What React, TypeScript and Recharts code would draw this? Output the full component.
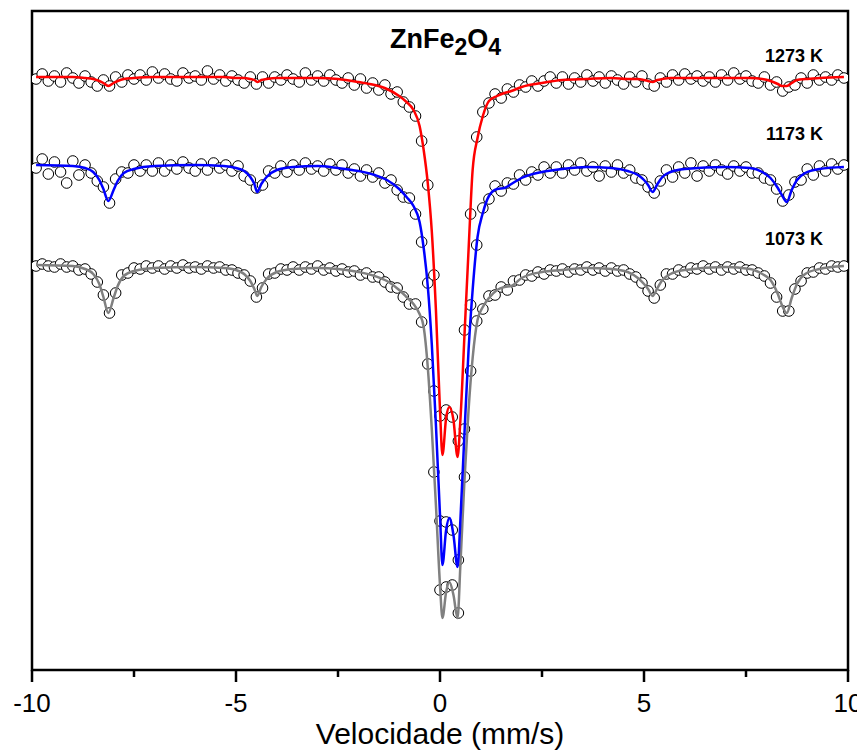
import React from 'react';
import {
  ComposedChart,
  Scatter,
  Line,
  XAxis,
  YAxis,
  ReferenceArea,
} from 'recharts';

// velocity channels (mm/s) of the measured spectra
const VEL = [
  -9.9, -9.75, -9.6, -9.45, -9.3, -9.15, -9.0, -8.85, -8.7, -8.55, -8.4, -8.25, -8.1, -7.95, -7.8, -7.65,
  -7.5, -7.35, -7.2, -7.05, -6.9, -6.75, -6.6, -6.45, -6.3, -6.15, -6.0, -5.85, -5.7, -5.55, -5.4, -5.25,
  -5.1, -4.95, -4.8, -4.65, -4.5, -4.35, -4.2, -4.05, -3.9, -3.75, -3.6, -3.45, -3.3, -3.15, -3.0, -2.85,
  -2.7, -2.55, -2.4, -2.25, -2.1, -1.95, -1.8, -1.65, -1.5, -1.35, -1.2, -1.05, -0.9, -0.75, -0.6, -0.45,
  -0.3, -0.15, 0, 0.15, 0.3, 0.45, 0.6, 0.75, 0.9, 1.05, 1.2, 1.35, 1.5, 1.65, 1.8, 1.95,
  2.1, 2.25, 2.4, 2.55, 2.7, 2.85, 3.0, 3.15, 3.3, 3.45, 3.6, 3.75, 3.9, 4.05, 4.2, 4.35,
  4.5, 4.65, 4.8, 4.95, 5.1, 5.25, 5.4, 5.55, 5.7, 5.85, 6.0, 6.15, 6.3, 6.45, 6.6, 6.75,
  6.9, 7.05, 7.2, 7.35, 7.5, 7.65, 7.8, 7.95, 8.1, 8.25, 8.4, 8.55, 8.7, 8.85, 9.0, 9.15,
  9.3, 9.45, 9.6, 9.75, 9.9,
];

// relative transmission (arb. units, spectra offset)
const T_1273 = [
  591, 596, 589, 594, 588, 597, 592, 587, 594, 588, 584, 590, 584, 593, 588, 595,
  591, 595, 590, 598, 592, 596, 591, 589, 597, 592, 594, 590, 599, 591, 595, 589,
  594, 590, 587, 593, 586, 593, 587, 593, 590, 595, 591, 588, 597, 590, 594, 589,
  595, 590, 587, 592, 585, 591, 582, 587, 580, 585, 576, 578, 568, 563, 554, 529,
  485, 395, 254, 260, 253, 229, 340, 456, 533, 558, 567, 576, 572, 581, 578, 585,
  583, 589, 584, 589, 593, 587, 593, 586, 592, 588, 595, 589, 593, 587, 594, 590,
  586, 593, 588, 594, 586, 584, 592, 588, 595, 590, 596, 591, 594, 589, 593, 588,
  595, 590, 597, 591, 594, 589, 587, 593, 585, 588, 579, 583, 585, 592, 587, 595,
  590, 593, 590, 595, 592,
];

const T_1173 = [
  502, 511, 496, 508, 498, 487, 509, 495, 505, 497, 489, 483, 467, 491, 498, 497,
  505, 499, 505, 499, 507, 499, 505, 501, 508, 502, 499, 506, 500, 507, 502, 505,
  499, 504, 494, 490, 482, 485, 499, 497, 504, 498, 505, 500, 507, 501, 504, 499,
  506, 500, 505, 497, 501, 494, 500, 493, 497, 487, 490, 480, 473, 472, 456, 428,
  387, 279, 149, 148, 140, 110, 241, 365, 425, 462, 471, 484, 479, 487, 486, 495,
  490, 498, 495, 503, 497, 503, 497, 505, 500, 507, 499, 503, 494, 504, 498, 505,
  497, 500, 492, 490, 483, 477, 489, 500, 493, 503, 497, 507, 494, 504, 499, 505,
  500, 496, 504, 499, 503, 497, 497, 492, 490, 481, 469, 475, 488, 490, 501, 495,
  504, 499, 506, 501, 505,
];

const T_1073 = [
  404, 406, 404, 403, 406, 403, 404, 400, 401, 396, 388, 375, 357, 377, 395, 397,
  402, 401, 404, 402, 404, 401, 404, 402, 405, 402, 403, 401, 404, 402, 403, 400,
  400, 397, 395, 389, 373, 382, 396, 397, 401, 400, 403, 400, 403, 401, 404, 400,
  402, 399, 401, 398, 399, 395, 397, 393, 393, 388, 383, 382, 373, 366, 366, 348,
  306, 198, 80, 83, 85, 57, 193, 299, 349, 361, 374, 375, 383, 380, 389, 390,
  395, 394, 398, 396, 400, 399, 401, 398, 401, 400, 403, 400, 402, 399, 402, 399,
  400, 396, 393, 387, 379, 372, 385, 396, 396, 400, 398, 402, 401, 404, 401, 403,
  400, 403, 401, 403, 400, 400, 397, 394, 387, 373, 359, 359, 381, 389, 397, 398,
  402, 401, 404, 403, 404,
];

// fitted curves
const FIT_VEL = [
  -9.9, -9.0, -8.7, -8.5, -8.35, -8.25, -8.13, -8.0, -7.9, -7.75, -7.5, -7.0, -6.0, -5.3, -5.0, -4.8,
  -4.65, -4.55, -4.48, -4.38, -4.25, -4.0, -3.6, -3.0, -2.5, -2.0, -1.6, -1.3, -1.0, -0.82, -0.65, -0.5,
  -0.4, -0.3, -0.2, -0.1, 0.0, 0.06, 0.15, 0.23, 0.33, 0.43, 0.5, 0.6, 0.7, 0.8, 0.92, 1.05,
  1.2, 1.4, 1.58, 1.75, 2.0, 2.5, 3.0, 3.6, 4.2, 4.6, 4.85, 5.0, 5.1, 5.21, 5.33, 5.45,
  5.65, 6.0, 7.0, 7.6, 7.9, 8.1, 8.28, 8.38, 8.5, 8.62, 8.75, 8.95, 9.3, 9.9,
];

const FIT_1273 = [
  593, 593, 592, 591, 589, 587, 584, 587, 589, 591, 592, 593, 593, 593, 592, 592,
  591, 590, 588, 590, 591, 592, 592, 592, 591, 588, 585, 581, 574, 568, 560, 544,
  520, 487, 438, 360, 260, 215, 252, 263, 250, 213, 250, 335, 420, 500, 532, 554,
  569, 574, 577, 579, 583, 587, 590, 591, 592, 591, 591, 590, 589, 588, 590, 591,
  592, 592, 592, 592, 591, 589, 586, 584, 584, 587, 590, 591, 592, 593,
];

const FIT_1173 = [
  505, 504, 502, 498, 490, 481, 469, 480, 489, 497, 501, 504, 505, 504, 502, 499,
  493, 486, 478, 486, 493, 500, 503, 504, 502, 499, 495, 490, 481, 473, 464, 448,
  422, 384, 325, 245, 155, 105, 140, 152, 135, 103, 150, 237, 320, 380, 433, 457,
  474, 481, 482, 486, 492, 498, 501, 503, 502, 499, 495, 490, 485, 478, 486, 493,
  498, 501, 503, 502, 498, 492, 482, 475, 468, 480, 490, 497, 501, 503,
];

const FIT_1073 = [
  405, 404, 401, 396, 386, 373, 357, 372, 384, 394, 399, 402, 403, 402, 400, 396,
  389, 381, 374, 383, 391, 398, 401, 402, 401, 398, 394, 389, 380, 373, 366, 356,
  343, 303, 240, 165, 85, 52, 78, 88, 75, 52, 105, 190, 260, 312, 350, 363,
  372, 380, 383, 384, 392, 398, 400, 402, 401, 398, 392, 386, 381, 374, 382, 390,
  396, 400, 403, 401, 396, 390, 376, 365, 357, 372, 386, 396, 401, 404,
];

const X_TICKS = [-10, -7.5, -5, -2.5, 0, 2.5, 5, 7.5, 10];
const TEMP_LABELS = ['1273 K', '1173 K', '1073 K'];

const W = 857;
const H = 742;
const AXIS_Y = 662;
const MARGIN = { top: 3, right: 17, bottom: 18, left: 24 };
const FONT = 'Liberation Sans, Arial, Helvetica, sans-serif';

const toPoints = (xs: number[], ys: number[]) => xs.map((x, i) => ({ x, y: ys[i] }));

const Circle = (props: any) => {
  const { cx, cy } = props;
  if (cx == null || cy == null) return null;
  return <circle cx={cx} cy={cy} r={5.3} fill="#fff" stroke="#000" strokeWidth={1} />;
};

const VelTick = (props: any) => {
  const { x, payload } = props;
  const major = payload.value % 5 === 0;
  return (
    <g>
      <line x1={x} x2={x} y1={AXIS_Y} y2={AXIS_Y + (major ? 12 : 7)} stroke="#000" strokeWidth={2.5} />
      {major && (
        <text x={x} y={704} textAnchor="middle" fontSize={26} fontFamily={FONT} fill="#000">
          {payload.value}
        </text>
      )}
    </g>
  );
};

export default function App() {
  const pts1273 = toPoints(VEL, T_1273);
  const pts1173 = toPoints(VEL, T_1173);
  const pts1073 = toPoints(VEL, T_1073);
  const fit1273 = toPoints(FIT_VEL, FIT_1273);
  const fit1173 = toPoints(FIT_VEL, FIT_1173);
  const fit1073 = toPoints(FIT_VEL, FIT_1073);

  return (
    <div style={{ position: 'relative', width: W, height: H }}>
      {/* measured points + frame + velocity axis */}
      <ComposedChart width={W} height={H} margin={MARGIN}>
        <XAxis
          dataKey="x"
          type="number"
          domain={[-10, 10]}
          ticks={X_TICKS}
          interval={0}
          axisLine={false}
          tickLine={false}
          tick={<VelTick />}
          height={H - AXIS_Y - MARGIN.bottom}
          allowDataOverflow
        />
        <YAxis dataKey="y" type="number" domain={[0, 659]} hide allowDataOverflow />
        <ReferenceArea
          x1={-10}
          x2={10}
          y1={0}
          y2={659}
          fill="none"
          fillOpacity={0}
          stroke="#000"
          strokeWidth={2.5}
          ifOverflow="visible"
        />
        <Scatter data={pts1073} dataKey="y" shape={<Circle />} isAnimationActive={false} />
        <Scatter data={pts1173} dataKey="y" shape={<Circle />} isAnimationActive={false} />
        <Scatter data={pts1273} dataKey="y" shape={<Circle />} isAnimationActive={false} />
      </ComposedChart>

      {/* fitted curves, drawn over the points */}
      <div style={{ position: 'absolute', left: 0, top: 0 }}>
        <ComposedChart width={W} height={H} margin={{ ...MARGIN, bottom: H - AXIS_Y }}>
          <XAxis dataKey="x" type="number" domain={[-10, 10]} hide allowDataOverflow />
          <YAxis dataKey="y" type="number" domain={[0, 659]} hide allowDataOverflow />
          <Line data={fit1073} dataKey="y" type="monotone" stroke="#808080" strokeWidth={2.5} dot={false} activeDot={false} isAnimationActive={false} />
          <Line data={fit1173} dataKey="y" type="monotone" stroke="#0000ff" strokeWidth={2.5} dot={false} activeDot={false} isAnimationActive={false} />
          <Line data={fit1273} dataKey="y" type="monotone" stroke="#ff0000" strokeWidth={2.5} dot={false} activeDot={false} isAnimationActive={false} />
        </ComposedChart>
      </div>

      <svg width={W} height={H} style={{ position: 'absolute', left: 0, top: 0, pointerEvents: 'none' }}>
        <text x={382} y={40} fontSize={27} fontWeight="bold" fontFamily={FONT} fill="#000">
          ZnFe<tspan dy={7} fontSize={23}>2</tspan>
          <tspan dy={-7}>O</tspan>
          <tspan dy={7} fontSize={23}>4</tspan>
        </text>
        <text x={815} y={54} textAnchor="end" fontSize={18} fontWeight="bold" fontFamily={FONT}>{TEMP_LABELS[0]}</text>
        <text x={815} y={132} textAnchor="end" fontSize={18} fontWeight="bold" fontFamily={FONT}>{TEMP_LABELS[1]}</text>
        <text x={815} y={237} textAnchor="end" fontSize={18} fontWeight="bold" fontFamily={FONT}>{TEMP_LABELS[2]}</text>
        <text x={432} y={736} textAnchor="middle" fontSize={30} fontFamily={FONT} fill="#000">
          Velocidade (mm/s)
        </text>
      </svg>
    </div>
  );
}
